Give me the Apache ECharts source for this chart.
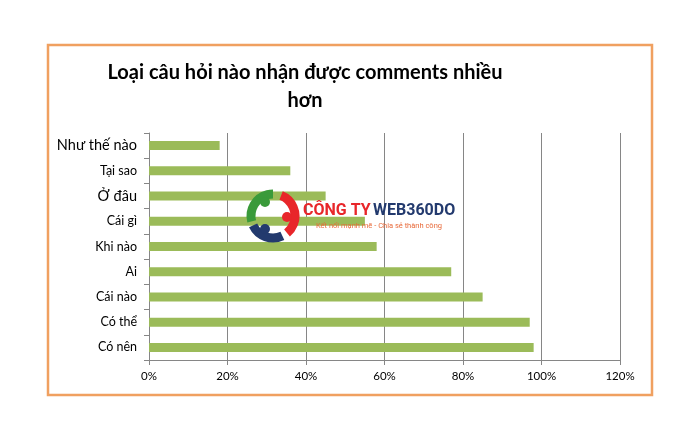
<!DOCTYPE html>
<html><head><meta charset="utf-8">
<script src="https://cdn.jsdelivr.net/npm/echarts@6/dist/echarts.min.js"></script>
<style>html,body{margin:0;padding:0;background:#fff}#c{width:700px;height:431px}</style>
</head><body><div id="c"></div>
<script>
const categories = ['Như thế nào','Tại sao','Ở đâu','Cái gì','Khi nào','Ai','Cái nào','Có thể','Có nên'];
const values = [0.18,0.36,0.45,0.55,0.58,0.77,0.85,0.97,0.98];
const xTicks = [0,0.2,0.4,0.6,0.8,1.0,1.2];
const titleText = 'Loại câu hỏi nào nhận được comments nhiều\nhơn';

const chart = echarts.init(document.getElementById('c'));
const F = 'Lato, "Open Sans", sans-serif';
const PI = Math.PI;
chart.setOption({
  animation:false,
  backgroundColor:'#fff',
  title:{text:titleText,left:300,top:54,textAlign:'center',
    textStyle:{fontFamily:F,fontSize:20,fontWeight:'bold',color:'#000',lineHeight:28}},
  grid:{left:149,right:80,top:133,bottom:71,containLabel:false},
  xAxis:{type:'value',min:xTicks[0],max:xTicks[xTicks.length-1],interval:0.2,
    axisLine:{show:true,lineStyle:{color:'#868686'}},
    axisTick:{show:true,length:5,lineStyle:{color:'#868686'}},
    splitLine:{show:true,lineStyle:{color:'#868686',width:1}},
    axisLabel:{fontFamily:F,fontSize:11.5,color:'#000',margin:10,
      formatter:v=>Math.round(v*100)+'%'}},
  yAxis:{type:'category',data:categories,inverse:true,
    axisLine:{show:true,lineStyle:{color:'#868686'}},
    axisTick:{show:true,length:5,inside:false,lineStyle:{color:'#868686'}},
    axisLabel:{fontFamily:F,fontSize:12.5,color:'#000',margin:12,
      formatter:(v)=> (v==='Như thế nào'||v==='Ở đâu') ? '{b|'+v+'}' : v,
      rich:{b:{fontFamily:F,fontSize:14.5,color:'#000'}}}},
  series:[{type:'bar',data:values,barWidth:9,itemStyle:{color:'#9BBB59'},z:2}],
  graphic:[
    {type:'rect',shape:{x:48,y:45,width:604,height:350},style:{fill:'none',stroke:'#F0A060',lineWidth:2.5},z:0},
    {type:'arc',shape:{cx:273,cy:216,r:22,startAngle:PI*0.92,endAngle:PI*1.5},style:{stroke:'#3A9A3A',lineWidth:9,fill:'none'},z:10},
    {type:'arc',shape:{cx:273,cy:216,r:22,startAngle:-PI*0.38,endAngle:PI*0.28},style:{stroke:'#E8262A',lineWidth:9,fill:'none'},z:10},
    {type:'arc',shape:{cx:273,cy:216,r:22,startAngle:PI*0.36,endAngle:PI*0.86},style:{stroke:'#233A6E',lineWidth:9,fill:'none'},z:10},
    {type:'circle',shape:{cx:265,cy:202,r:5},style:{fill:'#3A9A3A'},z:10},
    {type:'circle',shape:{cx:287,cy:217,r:5},style:{fill:'#E8262A'},z:10},
    {type:'circle',shape:{cx:265,cy:229,r:5},style:{fill:'#233A6E'},z:10},
    {type:'text',x:303,y:211,style:{text:'CÔNG TY',fontFamily:'Roboto,sans-serif',fontWeight:'bold',fontSize:16,fill:'#E8262A',verticalAlign:'middle'},z:10},
    {type:'text',x:373,y:211,style:{text:'WEB360DO',fontFamily:'Roboto,sans-serif',fontWeight:'bold',fontSize:16,fill:'#233A6E',verticalAlign:'middle'},z:10},
    {type:'text',x:316,y:226,style:{text:'Kết nối mạnh mẽ - Chia sẻ thành công',fontFamily:'Roboto,sans-serif',fontSize:7.5,fill:'#E86A3A',verticalAlign:'middle'},z:10}
  ]
});
</script></body></html>
